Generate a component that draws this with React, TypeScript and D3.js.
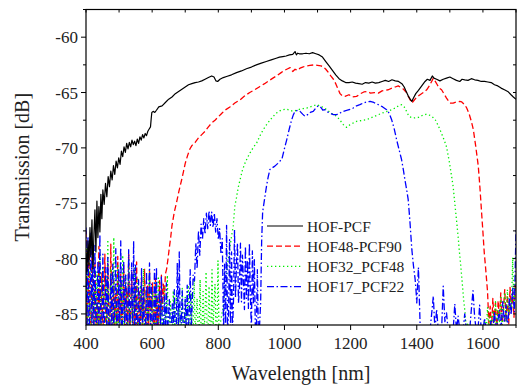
import React from "react";
import * as d3 from "d3";

// ---------- data ----------
const X_TICKS = [400, 600, 800, 1000, 1200, 1400, 1600];
const X_MINOR = [500, 700, 900, 1100, 1300, 1500, 1700];
const Y_TICKS = [-85, -80, -75, -70, -65, -60];
const Y_MINOR = [-82.5, -77.5, -72.5, -67.5, -62.5, -57.5];
const SERIES_NAMES = ["HOF-PCF", "HOF48-PCF90", "HOF32_PCF48", "HOF17_PCF22"];

// HOF-PCF (solid black), [wavelength nm, dB]
const HOF_PCF: [number, number][] = [
  [400,-79.5],[403,-81.2],[406,-78.4],[409,-80.6],[412,-77.2],[415,-79.8],[418,-76.5],[421,-80.9],[424,-77.8],[427,-75.6],
  [430,-79.4],[433,-74.8],[436,-78.1],[439,-75.3],[442,-77.6],[445,-74.2],[448,-76.4],[451,-73.8],[455,-75.1],[459,-73.2],
  [463,-74.4],[467,-72.6],[471,-73.5],[475,-72.1],[479,-72.9],[483,-71.6],[487,-72.4],[491,-71.2],[495,-71.8],[499,-70.9],
  [503,-71.5],[507,-70.3],[511,-70.8],[515,-69.9],[519,-70.4],[523,-69.6],[527,-70.1],[531,-69.5],[535,-69.9],[539,-69.3],
  [543,-69.7],[547,-69.4],[551,-69.8],[555,-69.2],[559,-69.6],[563,-69.0],[567,-69.3],[571,-68.8],[575,-69.1],[579,-68.7],
  [583,-68.9],[587,-68.5],[591,-68.3],[595,-68.1],[597,-67.4],[599,-66.8],[603,-66.7],[608,-66.8],[613,-66.6],[620,-66.3],
  [630,-66.2],[640,-65.9],[650,-65.6],[660,-65.4],[670,-65.1],[680,-64.9],[690,-64.7],[700,-64.5],[710,-64.3],[720,-64.2],
  [730,-64.1],[740,-64.05],[750,-63.95],[760,-63.8],[770,-63.65],[780,-63.5],[787,-63.6],[793,-63.95],[798,-64.0],[805,-63.8],
  [815,-63.65],[825,-63.55],[840,-63.4],[855,-63.2],[870,-63.05],[885,-62.85],[900,-62.7],[915,-62.5],[930,-62.35],[945,-62.2],
  [960,-62.05],[975,-61.9],[985,-61.8],[995,-61.75],[1005,-61.7],[1015,-61.6],[1025,-61.55],[1032,-61.3],[1036,-61.6],[1040,-61.45],
  [1045,-61.5],[1055,-61.5],[1065,-61.45],[1075,-61.5],[1085,-61.4],[1095,-61.5],[1105,-61.6],[1115,-61.8],[1125,-62.2],[1135,-62.6],
  [1145,-63.0],[1155,-63.4],[1165,-63.75],[1175,-63.95],[1185,-64.1],[1195,-64.1],[1205,-64.05],[1215,-64.15],[1225,-64.2],[1235,-64.25],
  [1245,-64.1],[1255,-64.15],[1265,-64.05],[1275,-64.15],[1285,-64.1],[1295,-64.0],[1305,-63.9],[1315,-64.0],[1325,-63.85],[1335,-63.95],
  [1345,-64.0],[1355,-64.2],[1362,-64.5],[1368,-64.9],[1374,-65.3],[1380,-65.6],[1385,-65.8],[1390,-65.5],[1397,-65.1],[1405,-64.8],
  [1415,-64.4],[1425,-64.0],[1432,-63.8],[1440,-63.9],[1447,-63.5],[1452,-63.7],[1460,-63.8],[1470,-63.95],[1480,-63.8],[1490,-63.7],
  [1500,-63.6],[1510,-63.75],[1520,-63.9],[1530,-64.0],[1537,-63.8],[1545,-63.85],[1555,-63.9],[1565,-63.75],[1575,-63.85],[1585,-63.9],
  [1595,-64.0],[1605,-64.0],[1615,-64.05],[1625,-64.1],[1635,-64.3],[1645,-64.4],[1655,-64.6],[1665,-64.75],[1675,-64.9],[1685,-65.2],
  [1692,-65.4],[1700,-65.6],
];

// HOF48-PCF90 (red dashed)
const RED_NOISE_L_START = 400, RED_NOISE_L_STEP = 3;
const RED_NOISE_L = [
  -77.5,-86.5,-84.0,-78.6,-86.5,-86.5,
  -79.4,-85.0,-86.5,-80.2,-86.5,-83.5,
  -86.5,-78.9,-86.5,-86.5,-81.3,-86.5,
  -84.2,-79.6,-86.5,-86.5,-80.5,-86.5,
  -86.5,-78.7,-85.2,-86.5,-82.0,-86.5,
  -83.1,-86.5,-79.8,-86.5,-86.5,-81.4,
  -86.5,-84.5,-80.6,-86.5,-86.5,-82.7,
  -86.5,-79.5,-86.5,-85.3,-81.2,-86.5,
  -86.5,-82.4,-86.5,-80.3,-86.5,-86.5,
  -83.0,-86.5,-81.6,-86.5,-84.7,-80.9,
  -86.5,-86.5,-82.5,-86.5,-81.1,-86.5,
  -84.9,-82.2,-86.5,-86.5,-81.8,-86.5,
  -83.4,-86.5,-82.0,-85.5,-81.5,-84.6,
  -82.3,-83.8,-81.4,
];
const RED_MAIN: [number, number][] = [
  [644,-80.9],[648,-80.0],[652,-79.0],[656,-78.1],[660,-77.0],[667,-75.8],[674,-74.9],[681,-73.9],[689,-72.9],[695,-72.1],
  [700,-71.4],[707,-70.7],[714,-70.1],[720,-69.8],[730,-69.5],[740,-69.1],[750,-68.8],[760,-68.5],[770,-68.1],[780,-67.75],
  [790,-67.5],[800,-67.2],[810,-66.9],[820,-66.6],[835,-66.3],[850,-65.95],[866,-65.65],[880,-65.3],[895,-65.0],[910,-64.75],
  [926,-64.45],[940,-64.2],[955,-63.9],[965,-63.7],[976,-63.5],[990,-63.2],[1000,-63.0],[1010,-62.85],[1017,-62.75],[1025,-63.1],
  [1032,-62.9],[1040,-63.0],[1047,-62.8],[1055,-62.7],[1065,-62.6],[1077,-62.55],[1090,-62.5],[1100,-62.55],[1110,-62.6],[1117,-62.65],
  [1125,-62.9],[1133,-63.2],[1140,-63.5],[1148,-63.8],[1155,-64.2],[1162,-64.7],[1168,-65.1],[1175,-65.3],[1183,-65.35],[1195,-65.2],
  [1205,-65.4],[1218,-65.35],[1230,-65.1],[1240,-64.95],[1250,-64.9],[1260,-65.05],[1272,-65.0],[1284,-65.05],[1295,-64.85],[1305,-64.8],
  [1314,-64.75],[1325,-64.6],[1335,-64.5],[1344,-64.4],[1352,-64.55],[1360,-64.7],[1369,-65.0],[1377,-65.5],[1385,-65.95],[1392,-65.7],
  [1400,-65.4],[1410,-65.2],[1420,-65.0],[1430,-64.75],[1438,-64.4],[1445,-64.0],[1450,-63.7],[1456,-64.0],[1462,-64.3],[1468,-64.6],
  [1475,-64.75],[1482,-65.1],[1490,-65.5],[1500,-65.95],[1510,-65.95],[1520,-65.85],[1530,-65.8],[1536,-65.85],[1545,-66.1],[1551,-66.4],
  [1558,-66.9],[1565,-67.6],[1571,-68.35],[1578,-69.8],[1586,-71.65],[1591,-73.6],[1596,-75.85],[1600,-77.6],[1604,-79.45],[1608,-80.8],
  [1611,-81.9],[1614,-83.0],
];
const RED_NOISE_R_START = 1618, RED_NOISE_R_STEP = 4;
const RED_NOISE_R = [
  -85.9,-84.3,-86.5,-83.6,-85.7,-84.0,-86.5,-83.8,-85.4,-83.1,
  -86.2,-84.5,-82.8,-85.6,-83.3,-85.9,-82.6,-84.9,-83.0,-85.3,
  -82.2,
];

// HOF32_PCF48 (green dotted)
const GREEN_NOISE_L_START = 400, GREEN_NOISE_L_STEP = 3;
const GREEN_NOISE_L = [
  -86.5,-79.0,-86.5,-84.5,-80.3,-86.5,
  -86.5,-78.8,-86.5,-82.9,-86.5,-81.2,
  -86.5,-86.5,-79.6,-86.5,-84.0,-80.7,
  -86.5,-86.5,-81.6,-86.5,-78.3,-86.5,
  -85.1,-80.9,-86.5,-86.5,-78.1,-86.5,
  -83.8,-86.5,-80.5,-86.5,-86.5,-82.3,
  -86.5,-79.7,-86.5,-84.9,-81.5,-86.5,
  -86.5,-80.1,-86.5,-86.5,-82.6,-86.5,
  -84.2,-80.8,-86.5,-86.5,-81.7,-86.5,
  -86.5,-82.4,-85.0,-86.5,-80.9,-86.5,
  -86.5,-82.8,-86.5,-84.3,-81.3,-86.5,
  -86.5,-83.0,-86.5,-86.5,-82.2,-86.5,
  -85.2,-81.6,-86.5,-86.5,-83.5,-86.5,
  -86.5,-82.6,-86.5,-85.0,-81.5,-86.5,
  -86.5,-83.9,-86.5,-86.5,-82.9,-86.5,
  -85.4,-83.3,-86.5,-86.5,-84.0,-86.5,
  -86.5,-82.7,-86.5,-86.5,-83.5,-86.5,
  -84.8,-82.4,-86.5,-86.5,-83.1,-86.5,
  -86.5,-82.0,-86.5,-85.3,-83.6,-86.5,
  -86.5,-81.9,-86.5,-86.5,-82.8,-86.5,
  -85.0,-81.2,-86.5,-86.5,-82.5,-86.5,
  -86.5,-81.0,-86.5,-84.3,-82.3,-86.5,
  -86.5,-80.2,-86.5,
];
const GREEN_MAIN: [number, number][] = [
  [808,-85.5],[812,-84.8],[815,-84.3],[820,-82.8],[825,-81.4],[830,-80.05],[835,-79.0],[840,-78.0],[845,-77.05],[850,-75.25],
  [855,-74.5],[860,-73.6],[866,-72.85],[873,-72.0],[881,-71.35],[888,-70.9],[896,-70.45],[905,-70.0],[916,-69.55],[926,-68.9],
  [936,-68.35],[946,-67.9],[956,-67.5],[966,-67.15],[976,-66.85],[986,-66.65],[996,-66.55],[1006,-66.5],[1016,-66.6],[1027,-66.7],
  [1037,-66.6],[1047,-66.5],[1057,-66.45],[1067,-66.4],[1077,-66.3],[1087,-66.2],[1097,-66.1],[1107,-66.2],[1117,-66.35],[1128,-66.55],
  [1138,-66.8],[1148,-67.0],[1158,-67.15],[1168,-67.5],[1178,-67.9],[1188,-68.15],[1198,-67.9],[1208,-67.75],[1218,-67.6],[1228,-67.55],
  [1238,-67.5],[1249,-67.45],[1260,-67.3],[1272,-67.15],[1284,-67.0],[1296,-66.85],[1310,-66.7],[1324,-66.55],[1335,-66.4],[1345,-66.2],
  [1354,-66.1],[1362,-66.3],[1369,-66.7],[1374,-67.0],[1379,-67.2],[1390,-67.3],[1405,-67.25],[1418,-67.05],[1430,-66.95],[1443,-67.1],
  [1455,-67.4],[1465,-68.0],[1475,-68.7],[1483,-69.3],[1490,-69.9],[1498,-71.2],[1505,-72.5],[1510,-73.5],[1515,-75.0],[1520,-76.5],
  [1525,-78.0],[1529,-79.4],[1533,-80.65],[1536,-81.7],[1539,-82.75],[1542,-83.8],[1546,-84.85],
];
const GREEN_NOISE_R_START = 1550, GREEN_NOISE_R_STEP = 4;
const GREEN_NOISE_R = [
  -86.5,-85.8,-86.5,-86.5,-86.5,-86.5,-86.5,-86.5,-86.5,-86.5,
  -86.5,-86.5,-86.5,-86.5,-85.6,-86.5,-84.4,-86.5,-85.1,-86.5,
  -84.7,-86.0,-83.9,-86.5,-84.6,-85.8,-83.5,-86.2,-84.9,-83.2,
  -85.7,-82.8,-85.1,-83.6,-84.8,-79.9,-84.5,-81.5,
];

// HOF17_PCF22 (blue dash-dot)
const BLUE_NOISE_A_START = 400, BLUE_NOISE_A_STEP = 3;
const BLUE_NOISE_A = [
  -77.2,-86.5,-78.0,-86.5,-84.6,-77.6,
  -86.5,-79.4,-86.5,-78.8,-86.5,-85.5,
  -80.2,-86.5,-77.8,-86.5,-86.5,-79.6,
  -86.5,-84.8,-80.8,-86.5,-79.9,-86.5,
  -86.5,-81.3,-86.5,-80.5,-86.5,-84.6,
  -79.1,-86.5,-86.5,-80.9,-86.5,-78.4,
  -86.5,-85.4,-80.2,-86.5,-81.5,-86.5,
  -86.5,-79.2,-86.5,-84.5,-80.4,-86.5,
  -78.4,-86.5,-80.6,-86.5,-86.5,-81.9,
  -86.5,-85.6,-80.9,-86.5,-82.6,-86.5,
  -86.5,-81.2,-86.5,-84.9,-80.4,-86.5,
  -82.3,-86.5,-86.5,-81.0,-86.5,-80.8,
  -86.5,-84.6,-82.9,-86.5,-81.6,-86.5,
  -86.5,-83.4,-86.5,-82.2,-86.5,-85.5,
  -83.7,-86.5,-86.5,-84.1,-86.5,-82.8,
  -86.5,-86.5,-80.4,-86.5,-79.4,-86.5,
  -85.8,-82.9,-86.5,-86.5,-83.6,-86.5,
  -82.4,-86.5,-85.1,-81.0,-86.5,-84.2,
  -81.5,
];
const BLUE_HUMP_START = 728, BLUE_HUMP_STEP = 4;
const BLUE_HUMP = [
  -82.0,-78.6,-80.9,-77.5,-79.7,-76.9,-78.3,-76.4,-77.8,-75.9,
  -77.3,-75.7,-77.0,-75.8,-77.2,-75.9,-77.6,-76.4,-78.3,-77.3,
  -79.6,-78.2,
];
const BLUE_NOISE_C_START = 816, BLUE_NOISE_C_STEP = 3;
const BLUE_NOISE_C = [
  -86.5,-80.5,-86.5,-77.0,-86.5,-85.0,
  -78.3,-86.5,-79.4,-86.5,-83.7,-77.4,
  -83.5,-80.4,-78.6,-84.0,-82.5,-78.6,
  -83.9,-79.7,-82.1,-84.6,-78.9,-83.6,
  -80.2,-84.5,-78.6,-83.2,-86.5,-79.3,
  -84.0,-80.1,-86.5,-86.5,-81.0,-86.5,
  -86.5,
];
const BLUE_MAIN: [number, number][] = [
  [928,-84.0],[931,-78.5],[934,-75.8],[937,-75.2],[941,-74.4],[946,-73.4],[951,-72.6],[956,-71.95],[963,-71.8],[971,-71.65],
  [980,-71.4],[986,-71.2],[992,-71.05],[998,-70.3],[1003,-69.7],[1007,-69.25],[1012,-68.6],[1017,-68.0],[1022,-67.45],[1027,-67.0],
  [1032,-66.7],[1040,-66.6],[1047,-66.7],[1055,-66.95],[1062,-67.15],[1070,-67.0],[1078,-66.8],[1087,-66.7],[1095,-66.4],[1102,-66.2],
  [1110,-66.35],[1116,-66.6],[1122,-66.55],[1130,-66.75],[1140,-66.9],[1148,-67.0],[1158,-67.0],[1168,-66.85],[1178,-66.7],[1190,-66.6],
  [1200,-66.5],[1208,-66.4],[1218,-66.2],[1228,-66.1],[1238,-65.95],[1248,-65.85],[1259,-65.8],[1270,-65.9],[1284,-66.1],[1297,-66.3],
  [1309,-66.55],[1317,-66.9],[1324,-67.45],[1332,-68.3],[1339,-69.25],[1346,-70.1],[1354,-71.05],[1359,-71.9],[1364,-72.85],[1369,-73.7],
  [1374,-74.65],[1379,-76.5],[1385,-79.15],[1390,-80.65],[1395,-81.85],[1398,-83.0],
];
const BLUE_NOISE_R_START = 1400, BLUE_NOISE_R_STEP = 5;
const BLUE_NOISE_R = [
  -84.0,-80.8,-85.9,-86.5,-86.5,-86.5,-86.5,-86.5,-86.5,-85.0,
  -83.4,-86.5,-84.6,-86.5,-86.5,-86.5,-82.5,-85.7,-84.9,-86.5,
  -86.5,-86.5,-86.5,-84.1,-86.5,-85.2,-86.5,-86.5,-86.5,-85.0,
  -86.5,-86.5,-86.5,-84.6,-82.9,-85.3,-86.5,-86.5,-84.2,-86.5,
  -86.5,-85.4,-86.5,-86.5,-86.5,-85.5,-86.5,-84.8,-86.5,-85.6,
  -84.7,-86.5,-83.9,-85.8,-84.2,-86.5,-83.5,-85.1,-82.6,-84.8,
  -77.4,
];

// ---------- helpers ----------
const seq = (start: number, step: number, vals: number[]): [number, number][] =>
  vals.map((v, i) => [start + i * step, v]);

const W = 517, H = 388;
const M = { left: 86, right: 1, top: 9.5, bottom: 63 };
const FONT = "Liberation Serif";

export default function App() {
  const x = d3.scaleLinear().domain([400, 1700]).range([M.left, W - M.right]);
  const y = d3.scaleLinear().domain([-86, -57.5]).range([H - M.bottom, M.top]);
  const line = d3.line<[number, number]>().x(d => x(d[0])).y(d => y(d[1]));

  const red = [...seq(RED_NOISE_L_START, RED_NOISE_L_STEP, RED_NOISE_L), ...RED_MAIN, ...seq(RED_NOISE_R_START, RED_NOISE_R_STEP, RED_NOISE_R)];
  const green = [...seq(GREEN_NOISE_L_START, GREEN_NOISE_L_STEP, GREEN_NOISE_L), ...GREEN_MAIN, ...seq(GREEN_NOISE_R_START, GREEN_NOISE_R_STEP, GREEN_NOISE_R)];
  const blue = [
    ...seq(BLUE_NOISE_A_START, BLUE_NOISE_A_STEP, BLUE_NOISE_A),
    ...seq(BLUE_HUMP_START, BLUE_HUMP_STEP, BLUE_HUMP),
    ...seq(BLUE_NOISE_C_START, BLUE_NOISE_C_STEP, BLUE_NOISE_C),
    ...BLUE_MAIN,
    ...seq(BLUE_NOISE_R_START, BLUE_NOISE_R_STEP, BLUE_NOISE_R),
  ];

  const styles = [
    { color: "#000000", dash: "none", w: 1.2 },
    { color: "#ff0000", dash: "6,3", w: 1.3 },
    { color: "#00ee00", dash: "1.3,2.7", w: 1.3 },
    { color: "#0000ff", dash: "7,2.5,1.5,2.5", w: 1.3 },
  ];
  const data = [HOF_PCF, red, green, blue];
  const drawOrder = [1, 2, 3, 0];

  const x0 = M.left, x1 = W - M.right, y0 = M.top, y1 = H - M.bottom;
  const txt = { fontFamily: FONT, fill: "#222" } as const;

  return (
    <svg width={W} height={H} style={{ position: "absolute", left: 0, top: 0, background: "#fff" }}>
      <defs>
        <clipPath id="plot">
          <rect x={x0} y={y0} width={x1 - x0} height={y1 - y0} />
        </clipPath>
      </defs>
      <rect x={0} y={0} width={W} height={H} fill="#fff" />
      <g clipPath="url(#plot)">
        {drawOrder.map(i => (
          <path key={i} d={line(data[i]) || ""} fill="none" stroke={styles[i].color}
            strokeWidth={styles[i].w} strokeDasharray={styles[i].dash} strokeLinejoin="round" />
        ))}
      </g>
      {/* frame */}
      <rect x={x0} y={y0} width={x1 - x0} height={y1 - y0} fill="none" stroke="#000" strokeWidth={1.2} />
      {/* x ticks */}
      {X_TICKS.map(t => (
        <g key={"xt" + t}>
          <line x1={x(t)} x2={x(t)} y1={y1} y2={y1 + 5} stroke="#000" strokeWidth={1} />
          <line x1={x(t)} x2={x(t)} y1={y0} y2={y0 + 3} stroke="#000" strokeWidth={1} />
          <text x={x(t)} y={y1 + 24} textAnchor="middle" fontSize={17} {...txt}>{t}</text>
        </g>
      ))}
      {X_MINOR.map(t => (
        <g key={"xm" + t}>
          <line x1={x(t)} x2={x(t)} y1={y1} y2={y1 + 3} stroke="#000" strokeWidth={1} />
          <line x1={x(t)} x2={x(t)} y1={y0} y2={y0 + 3} stroke="#000" strokeWidth={1} />
        </g>
      ))}
      {/* y ticks */}
      {Y_TICKS.map(t => (
        <g key={"yt" + t}>
          <line x1={x0 - 5} x2={x0} y1={y(t)} y2={y(t)} stroke="#000" strokeWidth={1} />
          <line x1={x1 - 3} x2={x1} y1={y(t)} y2={y(t)} stroke="#000" strokeWidth={1} />
          <text x={x0 - 8} y={y(t) + 6} textAnchor="end" fontSize={17} {...txt}>{t}</text>
        </g>
      ))}
      {Y_MINOR.map(t => (
        <g key={"ym" + t}>
          <line x1={x0 - 3} x2={x0} y1={y(t)} y2={y(t)} stroke="#000" strokeWidth={1} />
          <line x1={x1 - 3} x2={x1} y1={y(t)} y2={y(t)} stroke="#000" strokeWidth={1} />
        </g>
      ))}
      {/* axis titles */}
      <text x={(x0 + x1) / 2} y={380} textAnchor="middle" fontSize={20} {...txt}>Wavelength [nm]</text>
      <text transform={`translate(29, ${(y0 + y1) / 2}) rotate(-90)`} textAnchor="middle" fontSize={20} {...txt}>Transmission [dB]</text>
      {/* legend */}
      {SERIES_NAMES.map((name, i) => {
        const ly = 226 + i * 20.2;
        return (
          <g key={name}>
            <line x1={267} x2={303} y1={ly} y2={ly} stroke={styles[i].color} strokeWidth={styles[i].w}
              strokeDasharray={styles[i].dash} />
            <text x={307} y={ly + 5.5} fontSize={15.5} {...txt}>{name}</text>
          </g>
        );
      })}
    </svg>
  );
}
